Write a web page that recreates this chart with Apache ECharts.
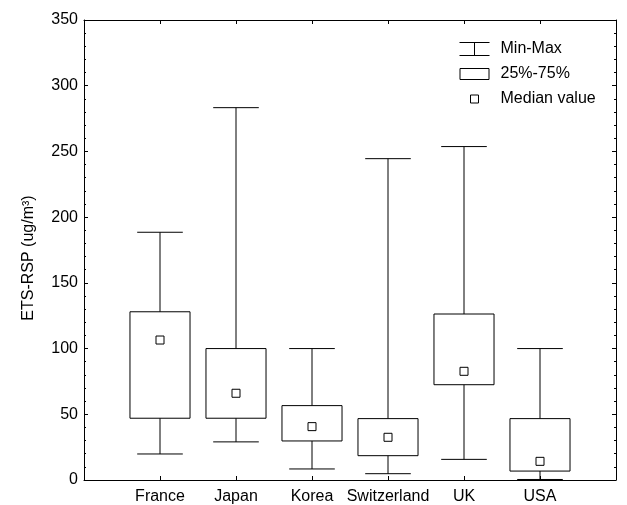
<!DOCTYPE html>
<html>
<head>
<meta charset="utf-8">
<script src="https://cdn.jsdelivr.net/npm/echarts@6/dist/echarts.min.js"></script>
<style>
  html, body { margin: 0; padding: 0; background: #fff; }
  #chart { width: 627px; height: 505px; }
</style>
</head>
<body>
<div id="chart"></div>
<script>
// ETS-RSP concentrations by country: min, quartiles, median, max (ug/m3)
const countries = ['France', 'Japan', 'Korea', 'Switzerland', 'UK', 'USA'];
const minValues    = [19.8, 29, 8.4, 4.8, 15.7, 0.4];
const q1Values     = [47, 47, 29.7, 18.5, 72.5, 6.8];
const medianValues = [106.5, 66, 40.6, 32.5, 82.7, 14.2];
const q3Values     = [128, 100, 56.6, 46.7, 126.3, 46.7];
const maxValues    = [188.5, 283.3, 100, 244.5, 253.7, 100];
const yTicks = { min: 0, max: 350, step: 50 };

const FONT = "'Liberation Sans', Arial, Helvetica, sans-serif";
const INK = '#000';

// each country sits at x = index + 1 on a 0..7 value axis
const whiskerData = countries.map((c, i) => [i + 1, minValues[i], maxValues[i]]);
const boxData = countries.map((c, i) => [i + 1, q1Values[i], q3Values[i]]);
const medianData = countries.map((c, i) => [i + 1, medianValues[i]]);

function renderWhisker(params, api) {
  const x = api.value(0);
  const lo = api.coord([x, api.value(1)]);
  const hi = api.coord([x, api.value(2)]);
  const half = api.size([1, 0])[0] * 0.30;
  const style = { stroke: INK, lineWidth: 1, fill: null };
  return {
    type: 'group',
    children: [
      { type: 'line', shape: { x1: lo[0], y1: lo[1], x2: hi[0], y2: hi[1] }, style },
      { type: 'line', shape: { x1: lo[0] - half, y1: lo[1], x2: lo[0] + half, y2: lo[1] }, style },
      { type: 'line', shape: { x1: hi[0] - half, y1: hi[1], x2: hi[0] + half, y2: hi[1] }, style }
    ]
  };
}

function renderBox(params, api) {
  const x = api.value(0);
  const lo = api.coord([x, api.value(1)]);
  const hi = api.coord([x, api.value(2)]);
  const half = api.size([1, 0])[0] * 0.395;
  return {
    type: 'rect',
    shape: { x: lo[0] - half, y: hi[1], width: half * 2, height: lo[1] - hi[1] },
    style: { fill: '#fff', stroke: INK, lineWidth: 1 }
  };
}

const tickStyle = { show: true, inside: true, length: 4, lineStyle: { color: INK, width: 1 } };
const minorStyle = { show: true, splitNumber: 5, length: 2, lineStyle: { color: INK, width: 1 } };
const frameAxis = {
  axisLine: { show: true, onZero: false, lineStyle: { color: INK, width: 1 } },
  splitLine: { show: false }
};

const chart = echarts.init(document.getElementById('chart'), null, { renderer: 'canvas' });
chart.setOption({
  animation: false,
  backgroundColor: '#fff',
  textStyle: { fontFamily: FONT, color: INK },
  grid: { left: 84, right: 11, top: 20, bottom: 25, containLabel: false },
  legend: {
    orient: 'vertical',
    left: 459,
    top: 41,
    padding: 0,
    itemWidth: 36,
    itemHeight: 14,
    itemGap: 9,
    selectedMode: false,
    textStyle: { fontFamily: FONT, fontSize: 16, color: INK },
    data: [
      {
        name: 'Min-Max',
        icon: 'path://M0,0h30v1h-30z M14.5,0h1v14h-1z M0,13h30v1h-30z M36,14',
        itemStyle: { color: INK, borderWidth: 0 }
      },
      {
        name: '25%-75%',
        icon: 'path://M0.5,1.5h29v11h-29z M0,0 M36,14',
        itemStyle: { color: '#fff', borderColor: INK, borderWidth: 1 }
      },
      {
        name: 'Median value',
        icon: 'path://M11,3h8v8h-8z M0,0 M36,14',
        itemStyle: { color: '#fff', borderColor: INK, borderWidth: 1 }
      }
    ]
  },
  xAxis: [
    Object.assign({}, frameAxis, {
      type: 'value',
      position: 'bottom',
      min: 0,
      max: countries.length + 1,
      interval: 1,
      axisTick: tickStyle,
      axisLabel: {
        show: true,
        margin: 9,
        fontFamily: FONT,
        fontSize: 16,
        color: INK,
        formatter: v => countries[v - 1] || ''
      }
    }),
    Object.assign({}, frameAxis, {
      type: 'value',
      position: 'top',
      min: 0,
      max: countries.length + 1,
      interval: 1,
      axisTick: tickStyle,
      axisLabel: { show: false }
    })
  ],
  yAxis: [
    Object.assign({}, frameAxis, {
      type: 'value',
      position: 'left',
      min: yTicks.min,
      max: yTicks.max,
      interval: yTicks.step,
      name: 'ETS-RSP (ug/m\u00B3)',
      nameLocation: 'middle',
      nameGap: 47,
      nameRotate: 90,
      nameTextStyle: { fontFamily: FONT, fontSize: 16, color: INK, padding: [0, 16, 0, 0] },
      axisTick: tickStyle,
      minorTick: minorStyle,
      axisLabel: { show: true, margin: 6, fontFamily: FONT, fontSize: 16, color: INK }
    }),
    Object.assign({}, frameAxis, {
      type: 'value',
      position: 'right',
      min: yTicks.min,
      max: yTicks.max,
      interval: yTicks.step,
      axisTick: tickStyle,
      minorTick: minorStyle,
      axisLabel: { show: false }
    })
  ],
  series: [
    {
      name: 'Min-Max',
      type: 'custom',
      renderItem: renderWhisker,
      encode: { x: 0, y: [1, 2] },
      data: whiskerData,
      z: 2
    },
    {
      name: '25%-75%',
      type: 'custom',
      renderItem: renderBox,
      encode: { x: 0, y: [1, 2] },
      data: boxData,
      z: 3
    },
    {
      name: 'Median value',
      type: 'scatter',
      symbol: 'rect',
      symbolSize: 8,
      itemStyle: { color: '#fff', borderColor: INK, borderWidth: 1, opacity: 1 },
      data: medianData,
      z: 4
    }
  ]
});
</script>
</body>
</html>
